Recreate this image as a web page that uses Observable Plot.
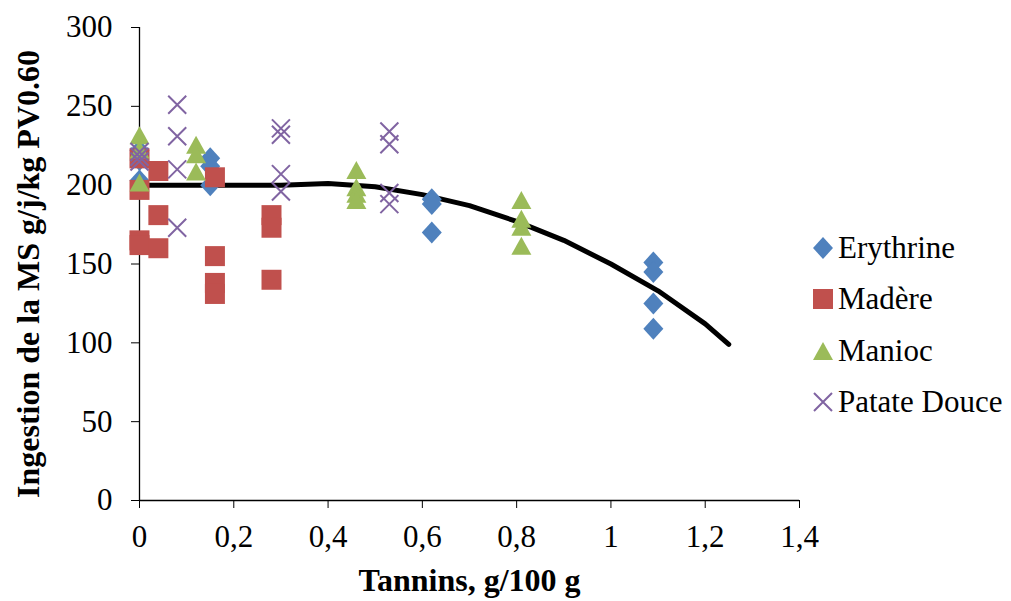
<!DOCTYPE html>
<html>
<head>
<meta charset="utf-8">
<script src="https://cdn.jsdelivr.net/npm/d3@7"></script>
<script src="https://cdn.jsdelivr.net/npm/@observablehq/plot@0.6"></script>
<style>
  body { margin: 0; background: #fff; }
  #wrap { position: relative; width: 1011px; height: 601px; font-family: "Liberation Serif", "Times New Roman", serif; color: #000; }
  .leg { position: absolute; left: 811px; height: 40px; display: flex; align-items: center; font-size: 31px; white-space: nowrap; }
  .leg svg { width: 24px; height: 24px; margin-right: 3px; }
</style>
</head>
<body>
<div id="wrap"></div>
<script>
// ---- data ----
const xTicks = [0, 0.2, 0.4, 0.6, 0.8, 1, 1.2, 1.4];
const xTickLabels = ["0", "0,2", "0,4", "0,6", "0,8", "1", "1,2", "1,4"];
const yTicks = [0, 50, 100, 150, 200, 250, 300];
const xTitle = "Tannins, g/100 g";
const yTitle = "Ingestion de la MS g/j/kg PV0.60";

const seriesNames = ["Erythrine", "Madère", "Manioc", "Patate Douce"];
const seriesColors = ["#4F81BD", "#C0504D", "#9BBB59", "#8064A2"];

const erythrineX = [0, 0, 0, 0.15, 0.15, 0.15, 0.62, 0.62, 0.62, 1.09, 1.09, 1.09, 1.09];
const erythrineY = [222, 216, 203, 217, 212, 200, 191, 188, 170, 151, 145, 125, 109];

const madereX = [0, 0, 0, 0, 0.04, 0.04, 0.04, 0.16, 0.16, 0.16, 0.16, 0.28, 0.28, 0.28];
const madereY = [217, 197, 165, 162, 209, 181, 160, 205, 155, 138, 131, 181, 173, 140];

const maniocX = [0, 0, 0, 0.12, 0.12, 0.12, 0.46, 0.46, 0.46, 0.46, 0.81, 0.81, 0.81, 0.81];
const maniocY = [231, 222, 201, 225, 219, 208, 209, 198, 194, 190, 190, 178, 173, 161];

const patateX = [0, 0, 0, 0.08, 0.08, 0.08, 0.08, 0.30, 0.30, 0.30, 0.30, 0.53, 0.53, 0.53, 0.53];
const patateY = [221, 218, 215, 251, 231, 210, 173, 236, 232, 207, 196, 234, 226, 195, 188];

const curveX = [0, 0.1, 0.2, 0.3, 0.4, 0.5, 0.6, 0.7, 0.8, 0.9, 1.0, 1.1, 1.2, 1.25];
const curveY = [200, 200, 200, 200, 201, 199, 194, 187, 177, 165, 150, 133, 112, 99];

// ---- custom Excel-like marker shapes ----
const rad = (size) => Math.sqrt(size / Math.PI);
const diamond = { draw(c, size) { const r = rad(size); const h = r * 1.1; c.moveTo(0, -h); c.lineTo(r, 0); c.lineTo(0, h); c.lineTo(-r, 0); c.closePath(); } };
const square = { draw(c, size) { const r = rad(size); c.moveTo(-r, -r); c.lineTo(r, -r); c.lineTo(r, r); c.lineTo(-r, r); c.closePath(); } };
const triangle = { draw(c, size) { const r = rad(size); c.moveTo(0, -r); c.lineTo(r, r * 0.8); c.lineTo(-r, r * 0.8); c.closePath(); } };
const cross = { draw(c, size) { const r = rad(size); c.moveTo(-r, -r); c.lineTo(r, r); c.moveTo(-r, r); c.lineTo(r, -r); } };

const toRows = (xs, ys) => xs.map((x, i) => ({ x, y: ys[i] }));
const erythrine = toRows(erythrineX, erythrineY);
const madere = toRows(madereX, madereY);
const manioc = toRows(maniocX, maniocY);
const patate = toRows(patateX, patateY);
const curve = toRows(curveX, curveY);

const chart = Plot.plot({
  width: 1011,
  height: 601,
  marginLeft: 139,
  marginRight: 212,
  marginTop: 27,
  marginBottom: 101,
  style: { fontFamily: "'Liberation Serif', 'Times New Roman', serif", fontSize: "31px", background: "white", color: "black", overflow: "visible" },
  x: { domain: [0, 1.4], ticks: xTicks, tickFormat: (d) => xTickLabels[xTicks.indexOf(d)], tickSize: 8, tickPadding: 16, label: null },
  y: { domain: [0, 300], ticks: yTicks, tickSize: 8, tickPadding: 19, label: null },
  marks: [
    Plot.ruleY([0], { stroke: "black", strokeWidth: 1.3 }),
    Plot.ruleX([0], { stroke: "black", strokeWidth: 1.3 }),
    Plot.line(curve, { x: "x", y: "y", stroke: "black", strokeWidth: 5 }),
    Plot.dot(erythrine, { x: "x", y: "y", symbol: diamond, r: 10, fill: seriesColors[0], stroke: "none" }),
    Plot.dot(madere, { x: "x", y: "y", symbol: square, r: 10, fill: seriesColors[1], stroke: "none" }),
    Plot.dot(manioc, { x: "x", y: "y", symbol: triangle, r: 10, fill: seriesColors[2], stroke: "none" }),
    Plot.dot(patate, { x: "x", y: "y", symbol: cross, r: 9, fill: "none", stroke: seriesColors[3], strokeWidth: 2 }),
    Plot.text([xTitle], { text: (d) => d, frameAnchor: "bottom", dy: 80, textAnchor: "middle", lineAnchor: "middle", fontSize: 32, fontWeight: "bold" }),
    Plot.text([yTitle], { text: (d) => d, frameAnchor: "left", rotate: -90, dx: -111, dy: 10, textAnchor: "middle", lineAnchor: "middle", fontSize: 32, fontWeight: "bold" })
  ]
});
const wrap = document.getElementById("wrap");
wrap.appendChild(chart);

// ---- legend ----
const legendShapes = [
  '<path d="M12,1 L22,12 L12,23 L2,12 Z" fill="#4F81BD"/>',
  '<rect x="2" y="2" width="20" height="20" fill="#C0504D"/>',
  '<path d="M12,3 L22,21 L2,21 Z" fill="#9BBB59"/>',
  '<path d="M3,3 L21,21 M3,21 L21,3" stroke="#8064A2" stroke-width="2" fill="none"/>'
];
const legendCenters = [248, 299, 351, 402];
seriesNames.forEach((name, i) => {
  const row = document.createElement("div");
  row.className = "leg";
  row.style.top = (legendCenters[i] - 20) + "px";
  row.innerHTML = `<svg viewBox="0 0 24 24">${legendShapes[i]}</svg><span>${name}</span>`;
  wrap.appendChild(row);
});
</script>
</body>
</html>
